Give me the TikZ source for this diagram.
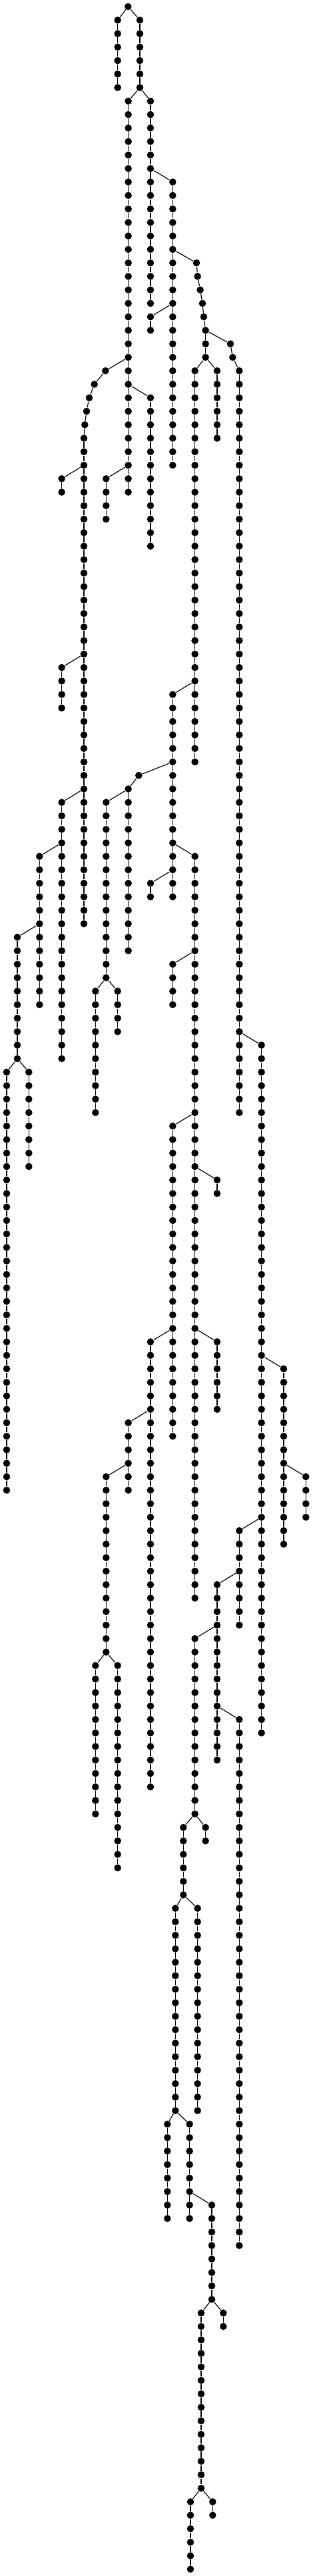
\documentclass[tikz,border=0pt]{standalone}

\tikzset{
  dot/.style={circle, fill=black, inner sep=0pt, minimum size=10.6pt}
}

\newcommand{\chain}[4]{%
  \foreach \lev in {#3,...,#4} {\node[dot] (#1-\lev) at (#2,\lev) {};}
  \pgfmathtruncatemacro\chainnext{#3+1}
  \foreach \lev in {\chainnext,...,#4} {%
    \pgfmathtruncatemacro\chainprev{\lev-1}
    \draw (#1-\chainprev) -- (#1-\lev);}
}

\begin{document}
\begin{tikzpicture}[x=0.333333pt, y=-20.267pt, line width=1.2pt]
        \useasboundingbox (0,-0.4934) rectangle (1410,190.507);

        \node[dot] (root) at (577,0) {};
        \chain{b1}{530}{1}{6}
        \chain{b2}{630}{1}{6}
        \chain{b3}{578}{7}{36}
        \chain{b4}{678}{7}{22}
        \chain{b5}{778}{13}{34}
        \chain{b6}{678}{23}{24}
        \chain{b7}{926}{24}{26}
        \chain{b8}{1078}{27}{82}
        \chain{b9}{878}{27}{56}
        \chain{b10}{978}{27}{32}
        \chain{b11}{378}{32}{68}
        \chain{b12}{678}{29}{40}
        \chain{b13}{478}{35}{38}
        \chain{b14}{278}{35}{36}
        \chain{b15}{278}{49}{52}
        \chain{b16}{278}{59}{78}
        \chain{b17}{178}{63}{74}
        \chain{b18}{78}{69}{78}
        \chain{b19}{30}{79}{110}
        \chain{b20}{130}{79}{86}
        \chain{b21}{778}{51}{66}
        \chain{b22}{578}{58}{70}
        \chain{b23}{478}{59}{72}
        \chain{b24}{430}{73}{82}
        \chain{b25}{530}{73}{76}
        \chain{b26}{878}{63}{118}
        \chain{b27}{678}{65}{66}
        \chain{b28}{778}{71}{74}
        \chain{b29}{778}{83}{106}
        \chain{b30}{978}{87}{88}
        \chain{b31}{978}{99}{104}
        \chain{b32}{678}{99}{132}
        \chain{b33}{578}{105}{110}
        \chain{b34}{478}{109}{122}
        \chain{b35}{430}{123}{134}
        \chain{b36}{530}{123}{138}
        \chain{b37}{1178}{77}{128}
        \chain{b38}{1278}{101}{114}
        \chain{b39}{1378}{109}{112}
        \chain{b40}{1078}{113}{120}
        \chain{b41}{978}{117}{130}
        \chain{b42}{878}{121}{134}
        \chain{b43}{926}{135}{136}
        \chain{b44}{826}{135}{140}
        \chain{b45}{790}{141}{156}
        \chain{b46}{890}{141}{156}
        \chain{b47}{754}{157}{164}
        \chain{b48}{854}{157}{164}
        \chain{b49}{954}{163}{170}
        \chain{b50}{906}{171}{184}
        \chain{b51}{1006}{171}{172}
        \chain{b52}{858}{185}{190}
        \chain{b53}{958}{185}{186}
        \chain{b54}{1078}{127}{166}

        \node[dot] (u19) at (885,19) {};
        \node[dot] (u20) at (890,20) {};
        \node[dot] (u21) at (902,21) {};
        \node[dot] (u22) at (912,22) {};
        \node[dot] (u23) at (918,23) {};
        \node[dot] (v25) at (1038,25) {};
        \node[dot] (v26) at (1048,26) {};
        \node[dot] (w27) at (475,27) {};
        \node[dot] (w28) at (425,28) {};
        \node[dot] (w29) at (402,29) {};
        \node[dot] (w30) at (390,30) {};
        \node[dot] (w31) at (382,31) {};
        \node[dot] (z57) at (625,57) {};

        \draw (root) -- (b1-1);
        \draw (root) -- (b2-1);
        \draw (b2-6) -- (b3-7);
        \draw (b2-6) -- (b4-7);
        \draw (b4-12) -- (b5-13);
        \draw (b5-22) -- (b6-23);
        \draw (b5-18) -- (u19) -- (u20) -- (u21) -- (u22) -- (u23) -- (b7-24);
        \draw (b7-24) -- (v25) -- (v26) -- (b8-27);
        \draw (b7-26) -- (b9-27);
        \draw (b7-26) -- (b10-27);
        \draw (b3-26) -- (w27) -- (w28) -- (w29) -- (w30) -- (w31) -- (b11-32);
        \draw (b3-28) -- (b12-29);
        \draw (b3-34) -- (b13-35);
        \draw (b11-34) -- (b14-35);
        \draw (b11-48) -- (b15-49);
        \draw (b11-58) -- (b16-59);
        \draw (b16-62) -- (b17-63);
        \draw (b17-68) -- (b18-69);
        \draw (b18-78) -- (b19-79);
        \draw (b18-78) -- (b20-79);
        \draw (b9-50) -- (b21-51);
        \draw (b21-56) -- (z57) -- (b22-58);
        \draw (b22-58) -- (b23-59);
        \draw (b23-72) -- (b24-73);
        \draw (b23-72) -- (b25-73);
        \draw (b21-62) -- (b26-63);
        \draw (b21-64) -- (b27-65);
        \draw (b26-70) -- (b28-71);
        \draw (b26-82) -- (b29-83);
        \draw (b26-86) -- (b30-87);
        \draw (b26-98) -- (b31-99);
        \draw (b29-98) -- (b32-99);
        \draw (b32-104) -- (b33-105);
        \draw (b33-108) -- (b34-109);
        \draw (b34-122) -- (b35-123);
        \draw (b34-122) -- (b36-123);
        \draw (b8-76) -- (b37-77);
        \draw (b37-100) -- (b38-101);
        \draw (b38-108) -- (b39-109);
        \draw (b37-112) -- (b40-113);
        \draw (b40-116) -- (b41-117);
        \draw (b41-120) -- (b42-121);
        \draw (b42-134) -- (b43-135);
        \draw (b42-134) -- (b44-135);
        \draw (b44-140) -- (b45-141);
        \draw (b44-140) -- (b46-141);
        \draw (b45-156) -- (b47-157);
        \draw (b45-156) -- (b48-157);
        \draw (b48-162) -- (b49-163);
        \draw (b49-170) -- (b50-171);
        \draw (b49-170) -- (b51-171);
        \draw (b50-184) -- (b52-185);
        \draw (b50-184) -- (b53-185);
        \draw (b41-126) -- (b54-127);
    \end{tikzpicture}
\end{document}
